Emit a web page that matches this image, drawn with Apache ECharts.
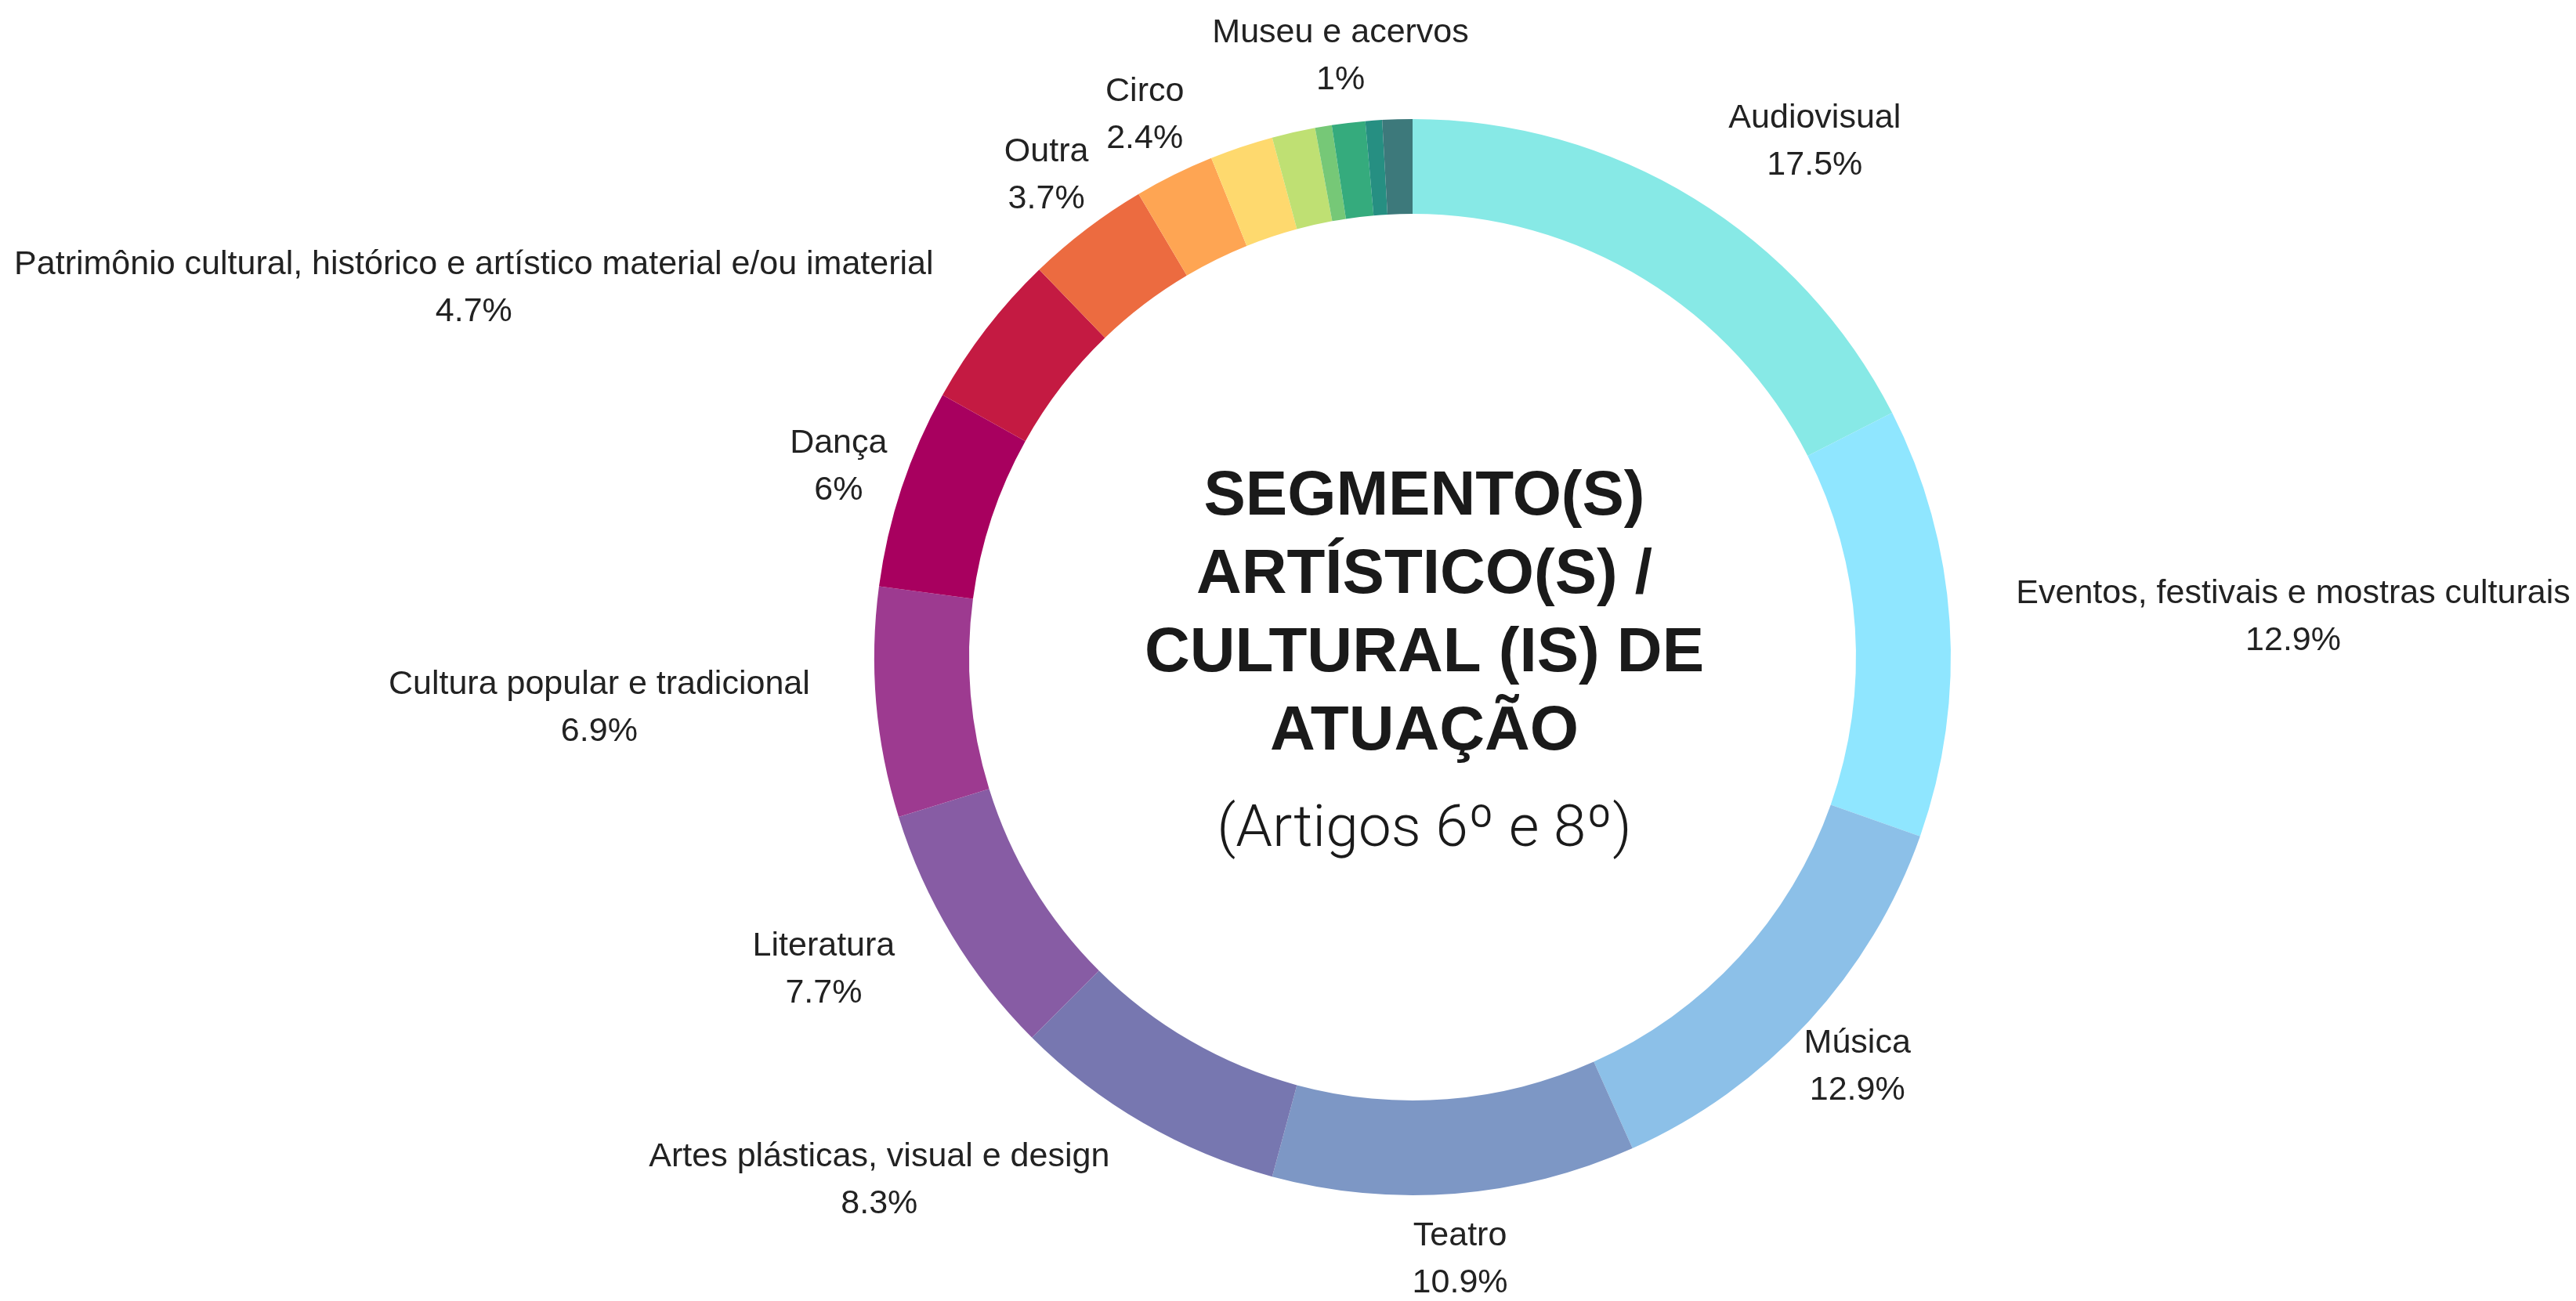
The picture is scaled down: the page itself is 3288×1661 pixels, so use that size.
<!DOCTYPE html>
<html>
<head>
<meta charset="utf-8">
<script src="https://cdn.jsdelivr.net/npm/echarts@6/dist/echarts.min.js"></script>
<style>
  html, body { margin: 0; padding: 0; background: #ffffff; }
  #chart { width: 3288px; height: 1661px; }
</style>
</head>
<body>
<div id="chart"></div>
<script>
// ---- Data (clockwise from 12 o'clock), values in percent ----
const categories = [
  'Audiovisual',
  'Eventos, festivais e mostras culturais',
  'Música',
  'Teatro',
  'Artes plásticas, visual e design',
  'Literatura',
  'Cultura popular e tradicional',
  'Dança',
  'Patrimônio cultural, histórico e artístico material e/ou imaterial',
  'Outra',
  'Circo',
  'Segmento sem rótulo A',
  'Segmento sem rótulo B',
  'Segmento sem rótulo C',
  'Museu e acervos',
  'Segmento sem rótulo D',
  'Segmento sem rótulo E'
];
const values = [17.5, 12.9, 12.9, 10.9, 8.3, 7.7, 6.9, 6, 4.7, 3.7, 2.4, 1.9, 1.3, 0.5, 1, 0.5, 0.9];
const labelledCategories = [
  'Audiovisual', 'Eventos, festivais e mostras culturais', 'Música', 'Teatro',
  'Artes plásticas, visual e design', 'Literatura', 'Cultura popular e tradicional', 'Dança',
  'Patrimônio cultural, histórico e artístico material e/ou imaterial', 'Outra', 'Circo', 'Museu e acervos'
];
const titleLines = ['SEGMENTO(S)', 'ARTÍSTICO(S) /', 'CULTURAL (IS) DE', 'ATUAÇÃO'];
const subtitle = '(Artigos 6º e 8º)';

// ---- Styles ----
const colors = [
  '#87e9e6', '#8fe6ff', '#8cc0e8', '#7d97c5', '#7777b0', '#875ca4', '#9d3a90', '#a8005f',
  '#c41a42', '#ec6b40', '#fea553', '#fed96e', '#bfe073', '#76c877', '#35ab7d', '#268f82', '#3d797b'
];
const centeredLabels = new Set(['Música', 'Teatro', 'Dança', 'Outra', 'Circo', 'Museu e acervos']);

const data = categories.map((name, i) => ({
  name: name,
  value: values[i],
  itemStyle: { color: colors[i] },
  label: { show: labelledCategories.includes(name) }
}));

const chart = echarts.init(document.getElementById('chart'), null, { renderer: 'canvas' });
chart.setOption({
  backgroundColor: '#ffffff',
  animation: false,
  graphic: [
    {
      type: 'text',
      x: 1818, y: 785,
      style: {
        text: titleLines.join('\n'),
        font: 'bold 80px "Liberation Sans", Arial, sans-serif',
        fill: '#1a1a1a',
        textAlign: 'center',
        textVerticalAlign: 'middle',
        lineHeight: 100
      }
    },
    {
      type: 'text',
      x: 1818, y: 1061,
      style: {
        text: subtitle,
        font: '300 75px Roboto, "Liberation Sans", sans-serif',
        fill: '#1a1a1a',
        textAlign: 'center',
        textVerticalAlign: 'middle'
      }
    }
  ],
  series: [{
    type: 'pie',
    center: [1803, 839],
    radius: [566, 687],
    startAngle: 90,
    clockwise: true,
    avoidLabelOverlap: false,
    data: data,
    label: {
      position: 'outside',
      formatter: '{b}\n{c}%',
      fontFamily: '"Liberation Sans", Arial, sans-serif',
      fontSize: 43,
      lineHeight: 60,
      color: '#222222',
      distanceToLabelLine: 0,
      bleedMargin: 0,
      overflow: 'none'
    },
    labelLine: { show: false, length: 85, length2: 0 },
    labelLayout: function (params) {
      const r = params.labelRect;
      const name = categories[params.dataIndex];
      let x;
      if (centeredLabels.has(name)) {
        x = params.align === 'right' ? r.x + r.width : r.x;
      } else {
        x = r.x + r.width / 2;
      }
      return { x: x, y: r.y + r.height / 2, align: 'center', verticalAlign: 'middle' };
    },
    emphasis: { disabled: true }
  }]
});
</script>
</body>
</html>
